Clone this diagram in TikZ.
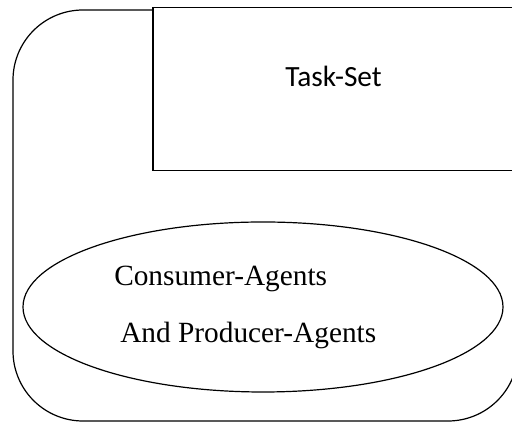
\documentclass[tikz,border=0pt]{standalone}
\usepackage{fontspec}
\setmainfont{Liberation Serif}
\newfontfamily\calibrifont{Carlito}
\usetikzlibrary{shapes.geometric}

\begin{document}
\begin{tikzpicture}[x=0.75pt,y=-0.75pt,
  serifword/.style={anchor=base west, inner sep=0pt, font=\fontsize{22}{26}\selectfont},
  sansword/.style={anchor=base west, inner sep=0pt, font=\calibrifont\fontsize{22}{26}\selectfont}]
\useasboundingbox (0,0) rectangle (512,423);
\clip (0,0) rectangle (512,423);
% outer frame
\draw[line width=0.9pt, rounded corners=52.5pt] (13,10) rectangle (518,421);
% task set box, runs past the right border and hides the frame corner
\node[draw, fill=white, line width=1.1pt, minimum width=282.75pt, minimum height=121.9pt, inner sep=0pt] (taskbox) at (341.5,89) {};
\node[sansword] (tasklabel) at (285,87) {Task-Set};
% agents
\node[ellipse, draw, line width=0.9pt, minimum width=360pt, minimum height=127.5pt, inner sep=0pt] (agents) at (263,307) {};
\node[serifword] (consumers) at (114,286) {Consumer-Agents};
\node[serifword] (producers) at (120,343) {And Producer-Agents};
\end{tikzpicture}
\end{document}
